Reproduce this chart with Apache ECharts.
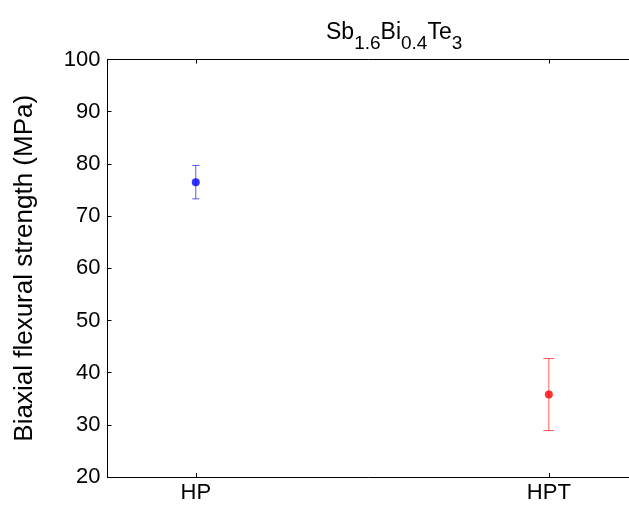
<!DOCTYPE html>
<html>
<head>
<meta charset="utf-8">
<script src="https://cdn.jsdelivr.net/npm/echarts@6/dist/echarts.min.js"></script>
<style>
  html, body { margin: 0; padding: 0; background: #fff; }
  #chart { width: 629px; height: 506px; }
</style>
</head>
<body>
<div id="chart"></div>
<script>
// Sample groups and their positions on the x scale
const categories = ['HP', 'HPT'];
const xPositions = [1, 2];
// Mean biaxial flexural strength (MPa) and the half-width of each error bar
const meanStrength = [76.5, 35.8];
const errorHalf = [3.2, 6.9];
const seriesColors = ['#0000ff', '#ff0000'];
const capHalfWidths = [3.5, 5.5];
// Axis ranges and ticks (the x range runs past the right edge of the page)
const xRange = [0.75, 2.227];
const yTicks = [20, 30, 40, 50, 60, 70, 80, 90, 100];

const FONT = 'Liberation Sans, Arial, Helvetica, sans-serif';

const chart = echarts.init(document.getElementById('chart'), null, { renderer: 'canvas' });

function errorBarSeries(i) {
  return {
    type: 'custom',
    name: categories[i] + ' error',
    xAxisIndex: 0,
    yAxisIndex: 0,
    data: [[xPositions[i], meanStrength[i] - errorHalf[i], meanStrength[i] + errorHalf[i]]],
    renderItem: function (params, api) {
      const lo = api.coord([api.value(0), api.value(1)]);
      const hi = api.coord([api.value(0), api.value(2)]);
      const w = capHalfWidths[i];
      const style = { stroke: seriesColors[i], lineWidth: 1, opacity: 0.65 };
      return {
        type: 'group',
        children: [
          { type: 'line', shape: { x1: lo[0], y1: lo[1], x2: hi[0], y2: hi[1] }, style: style },
          { type: 'line', shape: { x1: hi[0] - w, y1: hi[1], x2: hi[0] + w, y2: hi[1] }, style: style },
          { type: 'line', shape: { x1: lo[0] - w, y1: lo[1], x2: lo[0] + w, y2: lo[1] }, style: style }
        ]
      };
    },
    z: 3
  };
}

function meanSeries(i) {
  return {
    type: 'scatter',
    name: categories[i],
    xAxisIndex: 0,
    yAxisIndex: 0,
    symbol: 'circle',
    symbolSize: 8,
    itemStyle: { color: seriesColors[i] },
    data: [[xPositions[i], meanStrength[i]]],
    z: 4
  };
}

const axisLineStyle = { show: true, lineStyle: { color: '#000', width: 1 } };

const option = {
  animation: false,
  backgroundColor: '#fff',
  title: {
    text: '{a|Sb}{s|1.6}{a|Bi}{s|0.4}{a|Te}{s|3}',
    left: 321,
    top: 16,
    textStyle: {
      fontWeight: 'normal',
      rich: {
        a: { fontFamily: FONT, fontSize: 23, fontWeight: 'normal', color: '#000', lineHeight: 24, verticalAlign: 'top' },
        s: { fontFamily: FONT, fontSize: 19, fontWeight: 'normal', color: '#000', lineHeight: 19, padding: [13, 0, 0, 0], verticalAlign: 'top' }
      }
    }
  },
  grid: { left: 107.5, top: 59.5, right: 0, bottom: 29, containLabel: false },
  xAxis: [
    {
      type: 'value',
      position: 'bottom',
      min: xRange[0],
      max: xRange[1],
      splitLine: { show: false },
      axisLine: axisLineStyle,
      axisTick: { show: true, inside: true, length: 4, customValues: xPositions, lineStyle: { color: '#000' } },
      axisLabel: {
        show: true,
        customValues: xPositions,
        formatter: function (v) { return categories[xPositions.indexOf(v)] || ''; },
        fontFamily: FONT, fontSize: 22, color: '#000', margin: 5
      }
    },
    {
      type: 'value',
      position: 'top',
      min: xRange[0],
      max: xRange[1],
      splitLine: { show: false },
      axisLine: axisLineStyle,
      axisTick: { show: true, inside: true, length: 4, customValues: xPositions, lineStyle: { color: '#000' } },
      axisLabel: { show: false }
    }
  ],
  yAxis: [
    {
      type: 'value',
      position: 'left',
      min: yTicks[0],
      max: yTicks[yTicks.length - 1],
      interval: 10,
      splitLine: { show: false },
      axisLine: axisLineStyle,
      axisTick: { show: true, inside: true, length: 4, lineStyle: { color: '#000' } },
      axisLabel: { fontFamily: FONT, fontSize: 22, color: '#000', margin: 7 },
      name: 'Biaxial flexural strength (MPa)',
      nameLocation: 'middle',
      nameGap: 70,
      nameRotate: 90,
      nameTextStyle: { fontFamily: FONT, fontSize: 26, color: '#000' }
    }
  ],
  series: [errorBarSeries(0), errorBarSeries(1), meanSeries(0), meanSeries(1)]
};

chart.setOption(option);
</script>
</body>
</html>
